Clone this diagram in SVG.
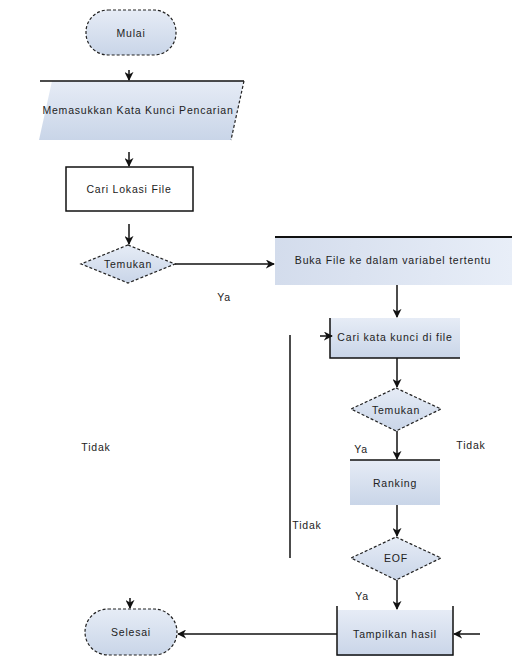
<svg xmlns="http://www.w3.org/2000/svg" width="517" height="656" viewBox="0 0 517 656">
<defs>
<linearGradient id="g" x1="0" y1="0" x2="0" y2="1">
<stop offset="0" stop-color="#e6ecf6"/>
<stop offset="1" stop-color="#c9d5e8"/>
</linearGradient>
<linearGradient id="gh" x1="0" y1="0" x2="1" y2="0">
<stop offset="0" stop-color="#d3dcec"/>
<stop offset="1" stop-color="#e8eef8"/>
</linearGradient>
<marker id="ah" viewBox="0 0 10 10" refX="9" refY="5" markerWidth="9" markerHeight="9" orient="auto-start-reverse" markerUnits="userSpaceOnUse">
<path d="M0,0 L10,5 L0,10 L3,5 z" fill="#111"/>
</marker>
</defs>
<style>
text{font-family:"Liberation Sans",Arial,sans-serif;font-size:10.5px;letter-spacing:0.8px;fill:#222;text-anchor:middle;dominant-baseline:central}
.ln{stroke:#111;stroke-width:1.5;fill:none}
.dash{stroke:#222;stroke-width:1.2;stroke-dasharray:3 2;fill:none}
.solid{stroke:#111;stroke-width:1.5;fill:none}
</style>
<rect width="517" height="656" fill="#fff"/>

<g id="mulai">
<rect x="86" y="10" width="90" height="45" rx="22" fill="url(#g)"/>
<rect x="86" y="10" width="90" height="45" rx="22" class="dash"/>
<text x="131" y="33">Mulai</text>
</g>

<g id="input">
<polygon points="52,81 244,81 231,140 39,140" fill="url(#g)"/>
<line x1="40" y1="81" x2="244" y2="81" class="solid"/>
<line x1="244" y1="81" x2="231" y2="140" class="dash"/>
<text x="138" y="110">Memasukkan Kata Kunci Pencarian</text>
</g>

<g id="lokasi">
<rect x="66" y="167" width="127" height="44" fill="url(#g)" class="solid"/>
<text x="129" y="189">Cari Lokasi File</text>
</g>

<g id="temukan1">
<polygon points="128,245 175,264 128,283 81,264" fill="url(#g)"/>
<polygon points="128,245 175,264 128,283 81,264" class="dash"/>
<text x="128" y="264">Temukan</text>
</g>

<g id="buka">
<rect x="275" y="237" width="237" height="48" fill="url(#gh)"/>
<line x1="275" y1="237" x2="512" y2="237" stroke="#111" stroke-width="2"/>
<text x="393" y="260">Buka File ke dalam variabel tertentu</text>
</g>

<g id="carikata">
<rect x="330" y="318" width="130" height="40" fill="url(#g)"/>
<polyline points="330,318 330,358 460,358" class="solid"/>
<text x="395" y="337">Cari kata kunci di file</text>
</g>

<g id="temukan2">
<polygon points="396,388 441,409 396,431 351,409" fill="url(#g)"/>
<polygon points="396,388 441,409 396,431 351,409" class="dash"/>
<text x="396" y="410">Temukan</text>
</g>

<g id="ranking">
<rect x="350" y="460" width="90" height="45" fill="url(#g)"/>
<line x1="350" y1="460" x2="440" y2="460" class="solid"/>
<text x="395" y="483">Ranking</text>
</g>

<g id="eof">
<polygon points="396,537 441,558 396,580 351,558" fill="url(#g)"/>
<polygon points="396,537 441,558 396,580 351,558" class="dash"/>
<text x="396" y="558">EOF</text>
</g>

<g id="tampilkan">
<rect x="337" y="610" width="116" height="46" fill="url(#g)"/>
<polyline points="337,606 337,655 453,655 453,606" class="solid"/>
<text x="395" y="634">Tampilkan hasil</text>
</g>

<g id="selesai">
<rect x="85" y="609" width="92" height="46" rx="23" fill="url(#g)"/>
<rect x="85" y="609" width="92" height="46" rx="23" class="dash"/>
<text x="131" y="632">Selesai</text>
</g>

<g id="connectors">
<line x1="129" y1="70" x2="129" y2="80" class="ln" marker-end="url(#ah)"/>
<line x1="129" y1="152" x2="129" y2="166" class="ln" marker-end="url(#ah)"/>
<line x1="129" y1="224" x2="129" y2="244" class="ln" marker-end="url(#ah)"/>
<line x1="175" y1="264" x2="274" y2="264" class="ln" marker-end="url(#ah)"/>
<line x1="397" y1="285" x2="397" y2="317" class="ln" marker-end="url(#ah)"/>
<line x1="320" y1="336" x2="332" y2="336" class="ln" marker-end="url(#ah)"/>
<line x1="397" y1="358" x2="397" y2="387" class="ln" marker-end="url(#ah)"/>
<line x1="397" y1="431" x2="397" y2="459" class="ln" marker-end="url(#ah)"/>
<line x1="397" y1="505" x2="397" y2="536" class="ln" marker-end="url(#ah)"/>
<line x1="397" y1="580" x2="397" y2="609" class="ln" marker-end="url(#ah)"/>
<line x1="480" y1="634" x2="454" y2="634" class="ln" marker-end="url(#ah)"/>
<line x1="337" y1="634" x2="178" y2="634" class="ln" marker-end="url(#ah)"/>
<line x1="130" y1="598" x2="130" y2="608" class="ln" marker-end="url(#ah)"/>
<line x1="290" y1="335" x2="290" y2="558" class="ln"/>
</g>

<g id="labels">
<text x="224" y="297">Ya</text>
<text x="96" y="447">Tidak</text>
<text x="307" y="525">Tidak</text>
<text x="471" y="445">Tidak</text>
<text x="361" y="449">Ya</text>
<text x="362" y="596">Ya</text>
</g>
</svg>
